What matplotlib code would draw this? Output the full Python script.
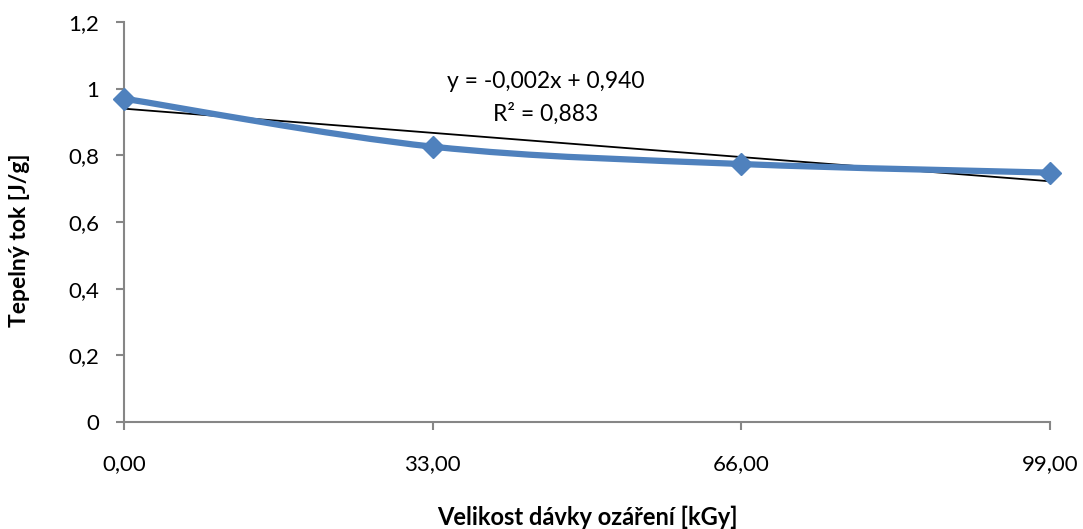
import numpy as np
import matplotlib
matplotlib.use("Agg")
import matplotlib.pyplot as plt
from matplotlib.path import Path
from matplotlib.patches import PathPatch

plt.rcParams['font.family'] = ['Lato', 'DejaVu Sans']

# Data
dose = [0.0, 33.0, 66.0, 99.0]
heat_flow = [0.970, 0.826, 0.774, 0.748]
x_ticks = [0, 33, 66, 99]
x_tick_labels = ["0,00", "33,00", "66,00", "99,00"]
y_ticks = [0, 0.2, 0.4, 0.6, 0.8, 1.0, 1.2]
y_tick_labels = ["0", "0,2", "0,4", "0,6", "0,8", "1", "1,2"]

# Linear trendline
trend_slope = -0.0022
trend_intercept = 0.940
trend_r2 = 0.883

x_label = "Velikost dávky ozáření [kGy]"
y_label = "Tepelný tok [J/g]"

BLUE = "#4F81BD"
GREY = "#868686"

W, H = 1083, 529
# plot area in pixels: left, right, top, bottom
PL, PR, PT, PB = 124, 1050, 22, 422
fig = plt.figure(figsize=(W / 100, H / 100), dpi=100)
ax = fig.add_axes([PL / W, 1 - PB / H, (PR - PL) / W, (PB - PT) / H])


def smooth_path(xs, ys):
    """Cubic Bezier path through the points (Catmull-Rom style control points)."""
    pts = np.column_stack([xs, ys]).astype(float)
    n = len(pts)
    verts = [pts[0]]
    codes = [Path.MOVETO]
    for i in range(n - 1):
        p0 = pts[i - 1] if i > 0 else pts[i]
        p1 = pts[i]
        p2 = pts[i + 1]
        p3 = pts[i + 2] if i + 2 < n else pts[i + 1]
        c1 = p1 + (p2 - p0) / 6.0
        c2 = p2 - (p3 - p1) / 6.0
        verts += [c1, c2, p2]
        codes += [Path.CURVE4] * 3
    return Path(verts, codes)


# Trendline
tx = np.array([x_ticks[0], x_ticks[-1]], dtype=float)
ax.plot(tx, trend_slope * tx + trend_intercept, color="black", lw=1.3, zorder=3,
        clip_on=False)

# Smoothed series line with diamond markers
ax.add_patch(PathPatch(smooth_path(dose, heat_flow), facecolor="none",
                       edgecolor=BLUE, lw=4.5, zorder=4, clip_on=False,
                       capstyle="round", joinstyle="round"))
ax.plot(dose, heat_flow, linestyle="none", marker="D", markersize=11,
        color=BLUE, markeredgecolor=BLUE, zorder=5, clip_on=False)

# Trendline equation
eq = "y = {:.3f}x + {:.3f}".format(trend_slope, trend_intercept).replace(".", ",")
r2 = "R² = {:.3f}".format(trend_r2).replace(".", ",")
ax.text(45.1, 1.02, eq, ha="center", va="center", fontsize=16.5)
ax.text(45.1, 0.925, r2, ha="center", va="center", fontsize=16.5)

ax.set_xlim(0, 99)
ax.set_ylim(0, 1.2)
ax.set_xticks(x_ticks)
ax.set_xticklabels(x_tick_labels, fontsize=16)
ax.set_yticks(y_ticks)
ax.set_yticklabels(y_tick_labels, fontsize=16)

for side in ("top", "right"):
    ax.spines[side].set_visible(False)
for side in ("left", "bottom"):
    ax.spines[side].set_color(GREY)
    ax.spines[side].set_linewidth(1.5)
ax.tick_params(axis="both", direction="out", length=6, width=1.5, color=GREY,
               labelcolor="black")
ax.tick_params(axis="x", pad=17)
ax.tick_params(axis="y", pad=12)

ax.set_xlabel(x_label, fontsize=17, fontweight="bold", va="center")
ax.xaxis.set_label_coords((587 - PL) / (PR - PL), (PB - 517) / (PB - PT))
ax.set_ylabel(y_label, fontsize=16.5, fontweight="bold", va="center")
ax.yaxis.set_label_coords((20 - PL) / (PR - PL), (PB - 240) / (PB - PT))

fig.savefig("out.png", dpi=100)
